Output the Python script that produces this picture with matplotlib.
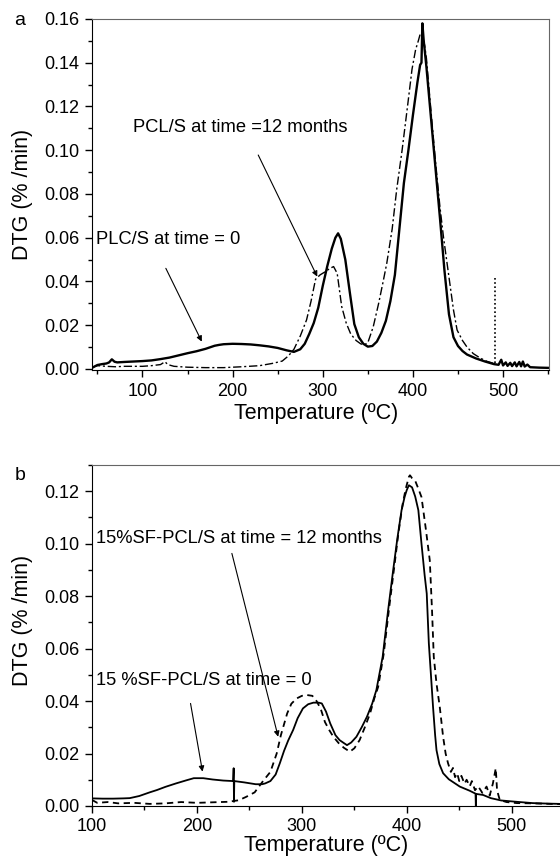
import numpy as np
import matplotlib
matplotlib.use("Agg")
import matplotlib.pyplot as plt
from matplotlib.ticker import MultipleLocator

plt.rcParams["font.family"] = ["Liberation Sans", "DejaVu Sans"]

# ---- panel a: PCL/S ----
a_t0_x = [44, 50, 55, 60, 63, 66, 69, 72, 80, 90, 100, 110, 120, 130, 140, 150, 160,
          170, 180, 185, 190, 200, 210, 220, 230, 240, 250, 260, 268, 275, 280, 285,
          290, 295, 300, 305, 310, 314, 317, 320, 325, 330, 335, 340, 345, 350, 355,
          360, 365, 370, 375, 380, 385, 390, 395, 400, 405, 408, 409.5, 410.5, 412,
          415, 420, 425, 430, 435, 440, 445, 450, 455, 460, 470, 480, 490, 495, 498,
          500, 503, 505, 508, 510, 513, 515, 518, 520, 522, 524, 527, 530, 540, 550]
a_t0_y = [0.0005, 0.0018, 0.0022, 0.0025, 0.0030, 0.0044, 0.0033, 0.0030, 0.0032,
          0.0034, 0.0036, 0.0039, 0.0045, 0.0052, 0.0062, 0.0072, 0.0081, 0.0092,
          0.0106, 0.0110, 0.0113, 0.0115, 0.0114, 0.0112, 0.0108, 0.0103, 0.0096,
          0.0085, 0.0078, 0.0090, 0.0115, 0.0160, 0.0210, 0.0280, 0.0380, 0.0470,
          0.0550, 0.0600, 0.0620, 0.0595, 0.0500, 0.0350, 0.0205, 0.0145, 0.0115,
          0.0102, 0.0105, 0.0125, 0.0165, 0.0220, 0.0310, 0.0430, 0.0640, 0.0850,
          0.1000, 0.1160, 0.1310, 0.1390, 0.1400, 0.1580, 0.1500, 0.1380, 0.1150,
          0.0920, 0.0690, 0.0450, 0.0250, 0.0145, 0.0105, 0.0082, 0.0066, 0.0048,
          0.0034, 0.0022, 0.0019, 0.0042, 0.0016, 0.0030, 0.0014, 0.0028, 0.0013,
          0.0030, 0.0012, 0.0032, 0.0012, 0.0034, 0.0011, 0.0020, 0.0008, 0.0006,
          0.0005]

a_12m_x = [44, 50, 60, 70, 80, 90, 100, 110, 120, 125, 128, 135, 150, 170, 190, 210,
           230, 245, 255, 262, 268, 275, 282, 287, 292, 297, 303, 308, 312, 316, 321,
           326, 331, 337, 342, 346, 350, 356, 362, 367, 371, 377, 382, 388, 394, 399,
           403, 406, 408, 410, 413, 415, 420, 425, 430, 434, 438, 441, 445, 449, 455,
           460, 467, 475, 482, 489]
a_12m_y = [0.0008, 0.0015, 0.0012, 0.0010, 0.0012, 0.0012, 0.0012, 0.0015, 0.0020,
           0.0033, 0.0020, 0.0012, 0.0008, 0.0006, 0.0006, 0.0010, 0.0015, 0.0026,
           0.0036, 0.0060, 0.0090, 0.0150, 0.0224, 0.0310, 0.0410, 0.0430, 0.0445,
           0.0460, 0.0468, 0.0437, 0.0285, 0.0210, 0.0160, 0.0130, 0.0115, 0.0110,
           0.0120, 0.0193, 0.0300, 0.0400, 0.0483, 0.0640, 0.0820, 0.1000, 0.1200,
           0.1370, 0.1460, 0.1500, 0.1530, 0.1530, 0.1480, 0.1420, 0.1180, 0.0950,
           0.0740, 0.0600, 0.0480, 0.0390, 0.0270, 0.0178, 0.0130, 0.0100, 0.0070,
           0.0049, 0.0035, 0.0026]

a_spike_x = [491, 491]
a_spike_y = [0.0025, 0.0422]

# ---- panel b: 15%SF-PCL/S ----
b_t0_x = [100, 110, 120, 130, 136, 145, 155, 162, 170, 180, 190, 197, 206, 215, 225,
          234.5, 235, 235.3, 235.6, 245, 256, 262, 265, 270, 275, 279, 283, 287, 291.7,
          296, 301, 306, 311, 316, 319, 323, 327, 332, 336, 340, 343, 347, 352, 357,
          362, 367, 371, 377, 382, 387, 391, 395, 398, 400, 402, 405, 408, 411, 414,
          417, 419, 421, 423, 425, 427, 428.3, 431, 434.6, 440, 450.5, 460, 465.5,
          465.8, 466.1, 472.7, 480, 490, 504.5, 520, 535, 546]
b_t0_y = [0.0029, 0.0028, 0.0028, 0.0029, 0.0030, 0.0038, 0.0052, 0.0061, 0.0073,
          0.0086, 0.0098, 0.0106, 0.0106, 0.0101, 0.0097, 0.0095, 0.0144, 0.0016,
          0.0095, 0.0090, 0.0083, 0.0083, 0.0086, 0.0095, 0.0120, 0.0163, 0.0210,
          0.0250, 0.0290, 0.0335, 0.0372, 0.0388, 0.0394, 0.0394, 0.0391, 0.0360,
          0.0315, 0.0270, 0.0251, 0.0240, 0.0232, 0.0242, 0.0264, 0.0300, 0.0340,
          0.0390, 0.0442, 0.0569, 0.0740, 0.0899, 0.1020, 0.1128, 0.1180, 0.1205,
          0.1223, 0.1215, 0.1180, 0.1128, 0.1000, 0.0880, 0.0810, 0.0620, 0.0500,
          0.0378, 0.0270, 0.0213, 0.0160, 0.0125, 0.0102, 0.0074, 0.0058, 0.0047,
          0.0000, 0.0046, 0.0042, 0.0030, 0.0021, 0.0016, 0.0011, 0.0009, 0.0008]

b_12m_x = [100, 105, 115, 125, 140, 155, 170, 185, 200, 215, 230, 240, 247, 255, 263,
           270, 276, 280, 286, 290, 295, 300, 305, 310, 314, 318, 322, 326, 330, 335,
           340, 345.7, 350, 355, 360, 365, 369, 372.7, 378, 383, 388, 392, 396, 399,
           402, 403, 405, 408, 411, 414, 418, 421.9, 424, 425.7, 428.3, 431.4, 434.6,
           437, 439.3, 442, 444, 446, 448, 450, 452, 455, 457, 460, 462, 465, 468,
           472, 476, 479, 482, 484.8, 486, 488.6, 495, 505, 520, 546]
b_12m_y = [0.0023, 0.0012, 0.0015, 0.0010, 0.0012, 0.0008, 0.0010, 0.0015, 0.0012,
           0.0014, 0.0016, 0.0022, 0.0035, 0.0052, 0.0095, 0.0130, 0.0200, 0.0270,
           0.0353, 0.0390, 0.0410, 0.0420, 0.0423, 0.0420, 0.0400, 0.0370, 0.0320,
           0.0290, 0.0264, 0.0240, 0.0222, 0.0207, 0.0220, 0.0251, 0.0300, 0.0353,
           0.0410, 0.0454, 0.0580, 0.0750, 0.0910, 0.1040, 0.1150, 0.1210, 0.1255,
           0.1261, 0.1250, 0.1240, 0.1210, 0.1178, 0.1060, 0.0937, 0.0750, 0.0569,
           0.0467, 0.0378, 0.0264, 0.0200, 0.0163, 0.0130, 0.0145, 0.0110, 0.0125,
           0.0095, 0.0115, 0.0085, 0.0100, 0.0075, 0.0095, 0.0060, 0.0075, 0.0050,
           0.0074, 0.0040, 0.0085, 0.0144, 0.0060, 0.0023, 0.0015, 0.0011, 0.0010,
           0.0007]

fig = plt.figure(figsize=(5.6, 8.66), dpi=100)
ax_a = fig.add_axes([0.1643, 0.5727, 0.8161, 0.4054])
ax_b = fig.add_axes([0.1643, 0.0693, 0.8357, 0.3937])

arrow_kw = dict(arrowstyle="-|>", color="k", lw=0.8, mutation_scale=8,
                shrinkA=0, shrinkB=0)

# panel a
ax_a.plot(a_t0_x, a_t0_y, color="k", lw=1.7)
ax_a.plot(a_12m_x, a_12m_y, color="k", lw=1.0, ls=(0, (6, 2, 1.5, 2)))
ax_a.plot(a_spike_x, a_spike_y, color="k", lw=1.2, ls=(0, (1, 1.5)))
ax_a.set_xlim(44, 551)
ax_a.set_ylim(-0.0005, 0.16)
ax_a.xaxis.set_major_locator(MultipleLocator(100))
ax_a.xaxis.set_minor_locator(MultipleLocator(50))
ax_a.yaxis.set_major_locator(MultipleLocator(0.02))
ax_a.yaxis.set_minor_locator(MultipleLocator(0.01))
ax_a.yaxis.set_major_formatter(lambda v, p: f"{v:.2f}")
ax_a.text(89.7, 0.1106, "PCL/S at time =12 months", fontsize=13.2, va="center", ha="left")
ax_a.text(48.7, 0.0594, "PLC/S at time = 0", fontsize=13.2, va="center", ha="left")
ax_a.annotate("", xy=(293.9, 0.0422), xytext=(228.4, 0.0978), arrowprops=arrow_kw)
ax_a.annotate("", xy=(165.8, 0.0125), xytext=(125.9, 0.046), arrowprops=arrow_kw)

# panel b
ax_b.plot(b_t0_x, b_t0_y, color="k", lw=1.3)
ax_b.plot(b_12m_x, b_12m_y, color="k", lw=1.3, ls=(0, (3.5, 2.5)))
ax_b.set_xlim(100, 546)
ax_b.set_ylim(0, 0.13)
ax_b.xaxis.set_major_locator(MultipleLocator(100))
ax_b.xaxis.set_minor_locator(MultipleLocator(50))
ax_b.yaxis.set_major_locator(MultipleLocator(0.02))
ax_b.yaxis.set_minor_locator(MultipleLocator(0.01))
ax_b.yaxis.set_major_formatter(lambda v, p: f"{v:.2f}")
ax_b.spines["right"].set_visible(False)
ax_b.text(103.8, 0.1021, "15%SF-PCL/S at time = 12 months", fontsize=13.2, va="center", ha="left")
ax_b.text(103.8, 0.048, "15 %SF-PCL/S at time = 0", fontsize=13.2, va="center", ha="left")
ax_b.annotate("", xy=(277.4, 0.0264), xytext=(233.3, 0.0963), arrowprops=arrow_kw)
ax_b.annotate("", xy=(205.3, 0.0131), xytext=(193.9, 0.0391), arrowprops=arrow_kw)

for ax in (ax_a, ax_b):
    ax.tick_params(which="both", direction="out", labelsize=13, pad=4, width=1)
    ax.tick_params(which="major", length=5)
    ax.tick_params(which="minor", length=3)
    ax.spines["top"].set_color("#666666")
    ax.spines["right"].set_color("#666666")
    ax.set_xlabel("Temperature (ºC)", fontsize=15.5)
    ax.set_ylabel("DTG (% /min)", fontsize=15.5)

ax_a.xaxis.set_label_coords(0.49, -0.094)
ax_a.yaxis.set_label_coords(-0.129, 0.5)
ax_b.xaxis.set_label_coords(0.5, -0.085)
ax_b.yaxis.set_label_coords(-0.126, 0.545)

fig.text(20 / 560, 1 - 25 / 866, "a", fontsize=14, ha="center", va="baseline")
fig.text(20 / 560, 1 - 480 / 866, "b", fontsize=14, ha="center", va="baseline")

fig.savefig("out.png", dpi=100)
